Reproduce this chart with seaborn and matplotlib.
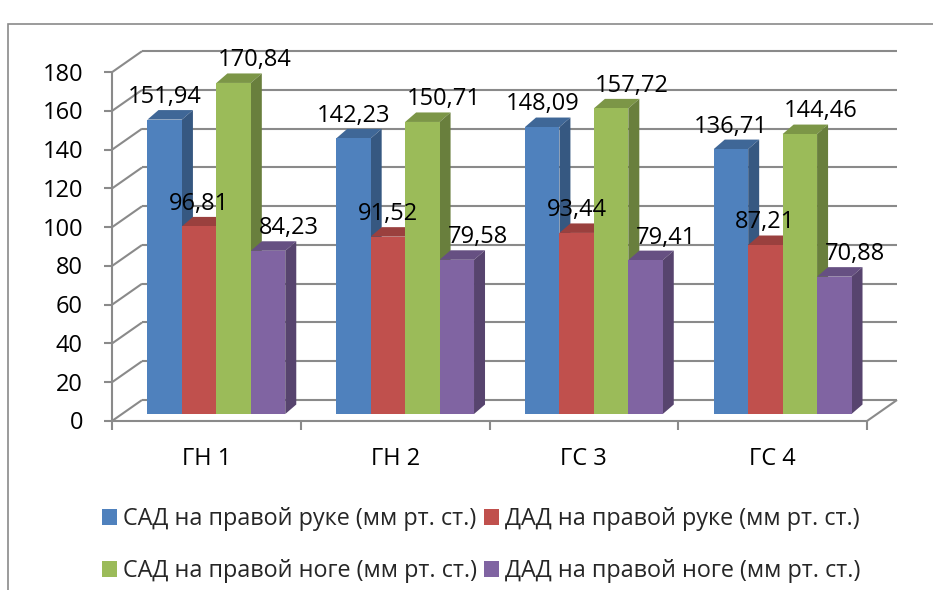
import matplotlib
matplotlib.use("Agg")
import matplotlib.pyplot as plt
import numpy as np
import pandas as pd
import seaborn as sns
from matplotlib.patches import Polygon, Rectangle
from matplotlib.colors import to_rgb

# ---- data ----
groups = ["ГН 1", "ГН 2", "ГС 3", "ГС 4"]
series = [
    "САД на правой руке (мм рт. ст.)",
    "ДАД на правой руке (мм рт. ст.)",
    "САД на правой ноге (мм рт. ст.)",
    "ДАД на правой ноге (мм рт. ст.)",
]
sad_arm = [151.94, 142.23, 148.09, 136.71]
dad_arm = [96.81, 91.52, 93.44, 87.21]
sad_leg = [170.84, 150.71, 157.72, 144.46]
dad_leg = [84.23, 79.58, 79.41, 70.88]
y_ticks = [0, 20, 40, 60, 80, 100, 120, 140, 160, 180]
colors = ["#4F81BD", "#C0504D", "#9BBB59", "#8064A2"]

values = [sad_arm, dad_arm, sad_leg, dad_leg]
df = pd.DataFrame({
    "group": [g for _ in series for g in groups],
    "series": [s for s in series for _ in groups],
    "value": [v for vals in values for v in vals],
})

sns.set_style("white")
plt.rcParams["font.family"] = ["Open Sans", "DejaVu Sans"]

W, H = 933, 590
fig = plt.figure(figsize=(W / 100, H / 100), dpi=100)

# plane in which the bars stand (pixel geometry of the plot box)
left_px, right_px = 122, 877
base_px, top_px = 414, 65.2
ax = fig.add_axes([left_px / W, (H - base_px) / H,
                   (right_px - left_px) / W, (base_px - top_px) / H])

sns.barplot(data=df, x="group", y="value", hue="series",
            order=groups, hue_order=series, palette=colors,
            saturation=1, width=0.73, edgecolor="none", linewidth=0,
            errorbar=None, ax=ax)
ax.set_xlim(-0.5, 3.5)
ax.set_ylim(0, 180)
ax.axis("off")

# pixel -> data unit scales
sx = (right_px - left_px) / 4.0
sy = (base_px - top_px) / 180.0


def px(dx, dy):
    return dx / sx, dy / sy


Fx, Fy = px(-10, -7)    # front edge of the floor
Bx, By = px(20, 14)     # back wall
ddx, ddy = px(11, 9.5)  # bar depth

FS_TICK = 17
FS_LEGEND = 16.8
FS_LABEL = 17
CAP = 0.714  # cap height of the font, in em

grid_kw = dict(color="#8a8a8a", lw=1.5, zorder=0.5, clip_on=False,
               solid_capstyle="butt")

tick_cap = CAP * FS_TICK * 100 / 72.0  # px
for v in y_ticks:
    ax.plot([-0.5 + Bx, 3.5 + Bx], [v + By, v + By], **grid_kw)
    ax.plot([-0.5 + Fx, -0.5 + Bx], [v + Fy, v + By], **grid_kw)
    tx, _ = px(-8, 0)
    ax.plot([-0.5 + Fx + tx, -0.5 + Fx], [v + Fy, v + Fy], **grid_kw)
    lx, ly = px(-29, -tick_cap / 2)
    ax.text(-0.5 + Fx + lx, v + Fy + ly, str(v), ha="right", va="baseline",
            fontsize=FS_TICK, color="black")

# floor edges and value axis
ax.plot([-0.5 + Fx, 3.5 + Fx], [Fy, Fy], **grid_kw)
ax.plot([3.5 + Fx, 3.5 + Bx], [Fy, By], **grid_kw)
ax.plot([-0.5 + Fx, -0.5 + Fx], [Fy, 180 + Fy], **grid_kw)
_, tdy = px(0, -9)
for b in np.arange(-0.5, 4.0, 1.0):
    ax.plot([b + Fx, b + Fx], [Fy, Fy + tdy], **grid_kw)

_, cdy = px(0, -44)
for i, g in enumerate(groups):
    ax.text(i + Fx, Fy + cdy, g, ha="center", va="baseline", fontsize=FS_TICK,
            color="black")


def shade(c, f):
    r, g, b = to_rgb(c)
    return (r * f, g * f, b * f)


# horizontal nudge of the value labels per series (px)
label_shift = [0, 0, 21, 21]
label_cap = CAP * FS_LABEL * 100 / 72.0

# depth faces of the columns and value labels
for k, cont in enumerate(ax.containers):
    col = colors[k]
    for p, val in zip(cont.patches, values[k]):
        p.set_zorder(2)
        x0, w, h = p.get_x(), p.get_width(), p.get_height()
        x1 = x0 + w
        top = Polygon([(x0, h), (x1, h), (x1 + ddx, h + ddy), (x0 + ddx, h + ddy)],
                      closed=True, facecolor=shade(col, 0.8), edgecolor="none",
                      zorder=1 + 0.1 * k, clip_on=False)
        side = Polygon([(x1, 0), (x1, h), (x1 + ddx, h + ddy), (x1 + ddx, ddy)],
                       closed=True, facecolor=shade(col, 0.68), edgecolor="none",
                       zorder=1 + 0.1 * k, clip_on=False)
        ax.add_patch(top)
        ax.add_patch(side)
        ax.annotate(f"{val:.2f}".replace(".", ","), xy=(x0 + w / 2, h),
                    xytext=(label_shift[k] * 0.72, (25 - label_cap / 2) * 0.72),
                    textcoords="offset points", ha="center", va="baseline",
                    fontsize=FS_LABEL, color="black", zorder=4,
                    annotation_clip=False)

# legend laid out row by row
old = ax.get_legend()
handles = list(old.legend_handles)
labels = [t.get_text() for t in old.get_texts()]
old.remove()
order = [0, 2, 1, 3]
ax.legend([handles[i] for i in order], [labels[i] for i in order],
          loc="upper left", bbox_to_anchor=(102 / W, (H - 507) / H),
          bbox_transform=fig.transFigure, ncol=2, frameon=False,
          fontsize=FS_LEGEND, handlelength=0.65, handleheight=0.65,
          handletextpad=0.25, columnspacing=0.3, labelspacing=1.2,
          borderpad=0, borderaxespad=0)

# chart area border
fig.add_artist(Rectangle((8 / W, -0.1), 2.0, (H - 24) / H + 0.1,
                         transform=fig.transFigure, fill=False,
                         edgecolor="#8a8a8a", lw=1.2))

fig.savefig("out.png", dpi=100)
